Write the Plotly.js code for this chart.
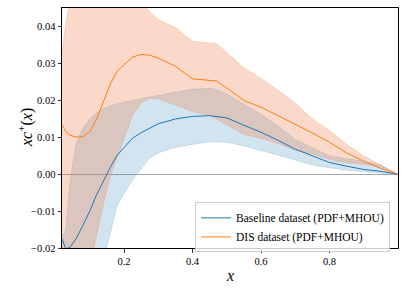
<!DOCTYPE html>
<html>
<head>
<meta charset="utf-8">
<script src="https://cdn.plot.ly/plotly-3.0.1.min.js"></script>
<style>html,body{margin:0;padding:0;background:#fff;}#chart{width:407px;height:291px;}</style>
</head>
<body>
<div id="chart"></div>
<script>
// x grid (shared by both series)
const xGrid = [0.019, 0.03, 0.042, 0.06, 0.08, 0.1, 0.12, 0.14, 0.16, 0.18, 0.2, 0.225, 0.25, 0.275, 0.3, 0.35, 0.4, 0.45, 0.47, 0.5, 0.55, 0.6, 0.65, 0.7, 0.75, 0.8, 0.85, 0.9, 0.95, 1.0];

// Baseline dataset (PDF+MHOU)
const baseCentral = [-0.0175, -0.0202, -0.0198, -0.0175, -0.0138, -0.0100, -0.0055, -0.0017, 0.0019, 0.0052, 0.0072, 0.0098, 0.0113, 0.0126, 0.0137, 0.0150, 0.0157, 0.0159, 0.0157, 0.0153, 0.0133, 0.0114, 0.0092, 0.0068, 0.0050, 0.0032, 0.0022, 0.0013, 0.0008, 0.0];
const baseUpper   = [-0.0170, -0.0150, -0.0020, 0.0085, 0.0125, 0.0150, 0.0167, 0.0178, 0.0186, 0.0192, 0.0196, 0.0201, 0.0205, 0.0210, 0.0215, 0.0222, 0.0231, 0.0233, 0.0230, 0.0218, 0.0190, 0.0163, 0.0130, 0.0095, 0.0072, 0.0050, 0.0042, 0.0036, 0.0025, 0.0];
const baseLower   = [-0.0600, -0.0580, -0.0550, -0.0500, -0.0450, -0.0380, -0.0310, -0.0240, -0.0160, -0.0085, -0.0052, -0.0015, 0.0015, 0.0045, 0.0058, 0.0073, 0.0081, 0.0088, 0.0088, 0.0087, 0.0077, 0.0064, 0.0052, 0.0039, 0.0025, 0.0018, 0.0011, 0.0006, 0.0003, 0.0];

// DIS dataset (PDF+MHOU)
const disCentral = [0.0135, 0.0115, 0.0106, 0.0101, 0.0102, 0.0115, 0.0150, 0.0200, 0.0245, 0.0280, 0.0298, 0.0318, 0.0325, 0.0323, 0.0315, 0.0293, 0.0259, 0.0254, 0.0253, 0.0234, 0.0200, 0.0182, 0.0159, 0.0136, 0.0112, 0.0087, 0.0058, 0.0035, 0.0016, 0.0];
const disUpper   = [0.0330, 0.0410, 0.0470, 0.0530, 0.0570, 0.0600, 0.0610, 0.0610, 0.0600, 0.0580, 0.0560, 0.0520, 0.0470, 0.0440, 0.0420, 0.0398, 0.0361, 0.0356, 0.0355, 0.0330, 0.0289, 0.0260, 0.0228, 0.0193, 0.0150, 0.0118, 0.0081, 0.0050, 0.0024, 0.0];
const disLower   = [-0.0800, -0.0700, -0.0600, -0.0480, -0.0360, -0.0250, -0.0160, -0.0080, -0.0005, 0.0045, 0.0095, 0.0160, 0.0193, 0.0206, 0.0205, 0.0188, 0.0170, 0.0160, 0.0148, 0.0133, 0.0108, 0.0098, 0.0083, 0.0065, 0.0055, 0.0040, 0.0031, 0.0027, 0.0020, 0.0];

const seriesNames = ["Baseline dataset (PDF+MHOU)", "DIS dataset (PDF+MHOU)"];
const xTitle = '<i>x</i>';
const yTitle = '<i>xc</i><sup>+</sup>(<i>x</i>)';
const xTicks = [0.2, 0.4, 0.6, 0.8];
const yTicks = [-0.02, -0.01, 0.0, 0.01, 0.02, 0.03, 0.04];

function band(upper, lower, color) {
  return {
    x: xGrid.concat(xGrid.slice().reverse()),
    y: upper.concat(lower.slice().reverse()),
    type: 'scatter', mode: 'lines', fill: 'toself',
    fillcolor: color, line: {color: color, width: 0.8},
    hoverinfo: 'skip', showlegend: false
  };
}

const blue = '#1f77b4', orange = '#ff7f0e';
const traces = [
  band(baseUpper, baseLower, 'rgba(31,119,180,0.2)'),
  band(disUpper, disLower, 'rgba(240,130,80,0.3)'),
  {x: xGrid, y: baseCentral, type: 'scatter', mode: 'lines', name: seriesNames[0], line: {color: blue, width: 1}},
  {x: xGrid, y: disCentral, type: 'scatter', mode: 'lines', name: seriesNames[1], line: {color: orange, width: 1}}
];

const font = 'Liberation Serif';
const layout = {
  width: 407, height: 291,
  margin: {l: 62, r: 9, t: 8, b: 43},
  paper_bgcolor: '#fff', plot_bgcolor: '#fff',
  font: {family: font, size: 10.5, color: '#000'},
  showlegend: true,
  legend: {x: 0.396, y: 0.19, xanchor: 'left', yanchor: 'top',
           bgcolor: 'rgba(255,255,255,0.8)', bordercolor: '#cccccc', borderwidth: 1,
           itemwidth: 30,
           font: {family: font, size: 11.5, color: '#000'}},
  xaxis: {range: [0.0188, 1.0], tickvals: xTicks, ticktext: xTicks.map(v => v.toFixed(1)),
          showgrid: false, zeroline: false, showline: true, mirror: true, linecolor: '#000', linewidth: 1,
          ticks: 'outside', ticklen: 3.5, tickwidth: 0.8, tickcolor: '#000'},
  yaxis: {range: [-0.02, 0.0451], tickvals: yTicks, ticktext: yTicks.map(v => (v < 0 ? '\u2212' : '') + Math.abs(v).toFixed(2)),
          showgrid: false, zeroline: true, zerolinecolor: 'rgba(128,128,128,0.7)', zerolinewidth: 1,
          showline: true, mirror: true, linecolor: '#000', linewidth: 1,
          ticks: 'outside', ticklen: 3.5, tickwidth: 0.8, tickcolor: '#000'},
  annotations: [
    {text: xTitle, xref: 'paper', yref: 'paper', x: 0.5, y: -0.115, xanchor: 'center', yanchor: 'middle',
     showarrow: false, font: {family: font, size: 16, color: '#000'}},
    {text: yTitle, xref: 'paper', yref: 'paper', x: -0.11, y: 0.5, xanchor: 'center', yanchor: 'middle',
     textangle: -90, showarrow: false, font: {family: font, size: 16, color: '#000'}}
  ]
};

Plotly.newPlot('chart', traces, layout, {displayModeBar: false, staticPlot: true});
</script>
</body>
</html>
